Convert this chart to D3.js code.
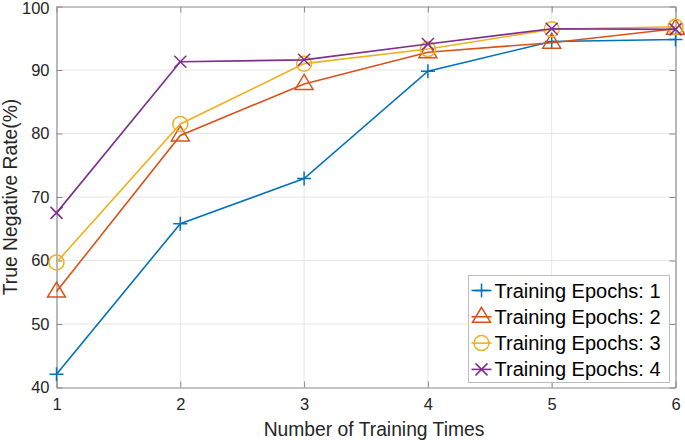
<!DOCTYPE html>
<html><head><meta charset="utf-8">
<script src="https://cdn.jsdelivr.net/npm/d3@7"></script>
<style>body{margin:0;background:#fff}svg{display:block}text{font-family:"Liberation Sans",Arial,sans-serif}</style>
</head><body>
<svg id="chart" width="685" height="440"></svg>
<script>
const xValues = [1, 2, 3, 4, 5, 6];
const epochs1 = [42.1, 65.8, 72.9, 89.8, 94.5, 94.8];
const epochs2 = [55.1, 79.7, 87.8, 92.8, 94.3, 96.5];
const epochs3 = [59.7, 81.5, 91.0, 93.3, 96.4, 96.8];
const epochs4 = [67.5, 91.3, 91.6, 94.1, 96.5, 96.4];
const seriesNames = ["Training Epochs: 1", "Training Epochs: 2", "Training Epochs: 3", "Training Epochs: 4"];
const seriesColors = ["#0072BD", "#D95319", "#EDB120", "#7E2F8E"];
const seriesMarkers = ["plus", "triangle", "circle", "cross"];
const yTicks = [40, 50, 60, 70, 80, 90, 100];
const xLabel = "Number of Training Times";
const yLabel = "True Negative Rate(%)";

const series = [epochs1, epochs2, epochs3, epochs4].map((v, i) => ({
  name: seriesNames[i], color: seriesColors[i], marker: seriesMarkers[i], values: v
}));

const svg = d3.select("#chart");
const L = 56.5, R = 675.5, T = 6.5, B = 387.5;
const x = d3.scaleLinear().domain([1, 6]).range([L, R]);
const y = d3.scaleLinear().domain([40, 100]).range([B, T]);

// grid
const g = svg.append("g");
g.selectAll(".gx").data(xValues.slice(1, -1)).join("line")
  .attr("x1", d => x(d)).attr("x2", d => x(d)).attr("y1", T).attr("y2", B)
  .attr("stroke", "#e6e6e6").attr("stroke-width", 1);
g.selectAll(".gy").data(yTicks.slice(1, -1)).join("line")
  .attr("y1", d => y(d)).attr("y2", d => y(d)).attr("x1", L).attr("x2", R)
  .attr("stroke", "#e6e6e6").attr("stroke-width", 1);

// axes
const axColor = "#8a8a8a";
const xAxis = svg.append("g").attr("transform", `translate(0,${B})`)
  .call(d3.axisBottom(x).tickValues(xValues).tickFormat(d3.format("d")).tickSizeInner(-6).tickSizeOuter(0).tickPadding(11));
const xAxisTop = svg.append("g").attr("transform", `translate(0,${T})`)
  .call(d3.axisTop(x).tickValues(xValues).tickFormat("").tickSizeInner(-6).tickSizeOuter(0));
const yAxis = svg.append("g").attr("transform", `translate(${L},0)`)
  .call(d3.axisLeft(y).tickValues(yTicks).tickSizeInner(-6).tickSizeOuter(0).tickPadding(7));
const yAxisR = svg.append("g").attr("transform", `translate(${R},0)`)
  .call(d3.axisRight(y).tickValues(yTicks).tickFormat("").tickSizeInner(-6).tickSizeOuter(0));
[xAxis, xAxisTop, yAxis, yAxisR].forEach(a => {
  a.select(".domain").attr("stroke", axColor).attr("stroke-width", 1.2);
  a.selectAll(".tick line").attr("stroke", axColor);
  a.selectAll("text").attr("fill", "#262626").attr("font-size", 16.5)
    .attr("font-family", "'Liberation Sans', Arial, sans-serif");
});
// keep the top tick label inside the picture
yAxis.selectAll(".tick text").filter(d => d === 100).attr("dy", "0.42em");

// labels
svg.append("text").attr("x", (L + R) / 2 + 8).attr("y", 436).attr("text-anchor", "middle")
  .attr("font-size", 19.3).attr("fill", "#262626").text(xLabel);
svg.append("text").attr("transform", `translate(17,${(T + B) / 2}) rotate(-90)`).attr("text-anchor", "middle")
  .attr("font-size", 19.3).attr("fill", "#262626").text(yLabel);

function drawMarker(sel, type, color) {
  if (type === "plus") {
    sel.append("path").attr("d", "M-7,0H7M0,-7V7").attr("stroke", color).attr("stroke-width", 1.5).attr("fill", "none");
  } else if (type === "triangle") {
    sel.append("path").attr("d", "M0,-9.5L9,5.5L-9,5.5Z").attr("stroke", color).attr("stroke-width", 1.5).attr("fill", "none");
  } else if (type === "circle") {
    sel.append("circle").attr("r", 7.5).attr("stroke", color).attr("stroke-width", 1.5).attr("fill", "none");
  } else {
    sel.append("path").attr("d", "M-6,-6L6,6M-6,6L6,-6").attr("stroke", color).attr("stroke-width", 1.5).attr("fill", "none");
  }
}

const line = d3.line().x((d, i) => x(xValues[i])).y(d => y(d));
series.forEach(s => {
  svg.append("path").datum(s.values).attr("d", line).attr("fill", "none")
    .attr("stroke", s.color).attr("stroke-width", 1.6);
  s.values.forEach((v, i) => {
    const m = svg.append("g").attr("transform", `translate(${x(xValues[i])},${y(v)})`);
    drawMarker(m, s.marker, s.color);
  });
});

// legend
const lg = svg.append("g").attr("transform", "translate(468.5,275.5)");
lg.append("rect").attr("width", 201).attr("height", 107).attr("fill", "#fff").attr("stroke", "#bdbdbd").attr("stroke-width", 1);
series.forEach((s, i) => {
  const yy = 15 + i * 26.3;
  lg.append("line").attr("x1", 3).attr("x2", 23).attr("y1", yy).attr("y2", yy).attr("stroke", s.color).attr("stroke-width", 1.6);
  const m = lg.append("g").attr("transform", `translate(13,${yy})`);
  drawMarker(m, s.marker, s.color);
  lg.append("text").attr("x", 26).attr("y", yy + 7).attr("font-size", 20).attr("fill", "#000").text(s.name);
});
</script>
</body></html>
